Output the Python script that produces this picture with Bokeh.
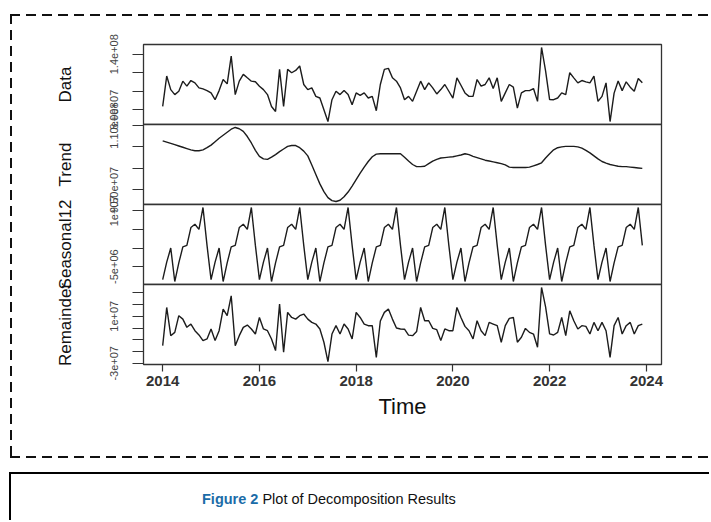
from bokeh.plotting import figure
from bokeh.models import Range1d, FixedTicker, Div, ColumnDataSource
from bokeh.layouts import column
from bokeh.embed import file_html
from bokeh.resources import INLINE

# ---------------- data (values in millions) ----------------
start_year = 2014
months_per_year = 12

data_m = [
    83.6, 116.4, 101.8, 96.4, 100.0, 110.9, 105.5, 111.6, 109.1, 103.6, 102.5, 100.7,
    98.2, 90.9, 100.7, 112.7, 108.0, 138.0, 96.4, 110.9, 118.2, 114.5, 110.9, 110.2,
    105.5, 101.8, 96.4, 83.6, 78.2, 123.6, 83.6, 123.6, 120.0, 122.5, 127.3, 107.3,
    101.8, 103.6, 94.5, 92.7, 80.0, 67.3, 90.9, 100.0, 96.4, 100.7, 96.4, 85.5,
    98.2, 95.6, 98.2, 92.7, 94.5, 79.0, 107.3, 123.6, 124.7, 114.5, 110.9, 103.6,
    90.9, 94.5, 89.1, 100.0, 110.9, 101.8, 109.1, 103.6, 97.1, 101.8, 107.3, 100.0,
    92.7, 114.5, 106.5, 98.2, 94.5, 94.5, 112.7, 105.5, 107.3, 114.5, 102.9, 114.5,
    89.1, 98.2, 107.3, 104.4, 81.8, 98.2, 100.7, 100.7, 102.9, 89.1, 147.3, 122.0,
    91.0, 90.9, 92.7, 98.2, 96.4, 120.0, 114.5, 109.1, 111.6, 110.2, 109.1, 116.4,
    89.1, 94.5, 109.0, 67.3, 98.0, 111.0, 100.7, 110.2, 104.4, 100.0, 113.8, 109.1,
]

trend_m = [
    106.4, 106.1, 105.8, 105.5, 105.2, 104.9, 104.6, 104.3, 104.1, 104.1, 104.3, 104.8,
    105.4, 106.2, 107.0, 107.7, 108.4, 109.1, 109.5, 109.2, 108.6, 107.4, 105.9, 104.2,
    102.8, 102.2, 102.1, 102.6, 103.2, 103.9, 104.5, 105.1, 105.3, 105.3, 104.8, 104.0,
    102.9, 100.8, 98.6, 96.4, 94.6, 93.2, 92.5, 92.3, 92.6, 93.4, 94.5, 95.9,
    97.4, 98.9, 100.3, 101.6, 102.7, 103.3, 103.4, 103.4, 103.4, 103.4, 103.4, 103.4,
    102.6, 101.7, 100.9, 100.4, 100.4, 100.5, 101.1, 101.7, 102.1, 102.4, 102.5, 102.6,
    102.7, 102.9, 103.1, 103.4, 103.2, 102.8, 102.5, 102.2, 101.9, 101.7, 101.5, 101.3,
    101.1, 100.8, 100.3, 100.2, 100.2, 100.2, 100.2, 100.3, 100.6, 100.9, 101.3, 102.4,
    103.4, 104.3, 104.8, 105.0, 105.1, 105.1, 105.1, 105.0, 104.7, 104.2, 103.6, 102.9,
    102.2, 101.6, 101.2, 100.9, 100.7, 100.5, 100.4, 100.4, 100.3, 100.2, 100.1, 100.0,
]

seasonal_rows_m = [
    [-8.5, -3.8, 0.0, -9.0, -4.0, 0.3, 0.7, 5.5, 6.4, 5.0, 10.9, 0.7],  # 2014
    [-8.5, -3.8, 0.0, -9.0, -4.0, 0.3, 0.7, 5.5, 6.4, 5.0, 10.9, 0.7],  # 2015
    [-8.5, -3.8, 0.0, -9.0, -4.0, 0.3, 0.7, 5.5, 6.4, 5.0, 10.9, 0.7],  # 2016
    [-8.5, -3.8, 0.0, -9.0, -4.0, 0.3, 0.7, 5.5, 6.4, 5.0, 10.9, 0.7],  # 2017
    [-8.5, -3.8, 0.0, -9.0, -4.0, 0.3, 0.7, 5.5, 6.4, 5.0, 10.9, 0.7],  # 2018
    [-8.5, -3.8, 0.0, -9.0, -4.0, 0.3, 0.7, 5.5, 6.4, 5.0, 10.9, 0.7],  # 2019
    [-8.5, -3.8, 0.0, -9.0, -4.0, 0.3, 0.7, 5.5, 6.4, 5.0, 10.9, 0.7],  # 2020
    [-8.5, -3.8, 0.0, -9.0, -4.0, 0.3, 0.7, 5.5, 6.4, 5.0, 10.9, 0.7],  # 2021
    [-8.5, -3.8, 0.0, -9.0, -4.0, 0.3, 0.7, 5.5, 6.4, 5.0, 10.9, 0.7],  # 2022
    [-8.5, -3.8, 0.0, -9.0, -4.0, 0.3, 0.7, 5.5, 6.4, 5.0, 10.9, 0.7],  # 2023
]

remainder_m = [
    -15.0, 17.5, -6.5, -3.7, 10.5, 7.6, 0.6, 3.4, -2.3, -5.9, -10.7, -9.3,
    -0.8, -10.7, -2.3, 16.1, 10.5, 27.4, -15.0, -6.5, 0.6, 2.5, -0.8, -5.1,
    9.0, -0.8, -2.3, -9.3, -19.2, 20.3, -20.6, 13.3, 9.0, 7.6, 10.5, 11.9,
    7.6, 4.8, 3.4, -0.8, -12.1, -28.5, -5.1, 2.0, -5.1, 3.4, -0.8, -9.3,
    13.3, 9.0, 3.4, 2.0, 2.0, -25.0, 6.0, 13.3, 16.1, 7.6, 0.0, -0.8,
    -1.0, -6.0, -6.5, -3.0, 17.5, 6.2, 6.2, -0.3, -1.4, -10.7, -0.8, -2.3,
    -2.3, 17.5, 9.0, 1.4, -2.3, -9.3, 6.2, -2.3, -6.5, 4.8, 3.4, 2.0,
    -12.1, 2.0, 8.2, 9.0, -12.1, -7.9, -0.3, -3.7, -5.1, -16.4, 34.5, 18.0,
    -5.0, -5.9, -3.7, 9.0, -6.5, 14.7, 6.2, -0.8, 2.0, 1.4, -5.1, 4.8,
    -2.3, 4.8, -2.3, -24.9, 2.0, 9.0, -5.1, 2.0, 4.8, -5.1, 2.0, 3.4,
]

panel_names = ["Data", "Trend", "Seasonal12", "Remainder"]

data_ticks = [6e7, 8e7, 1e8, 1.2e8, 1.4e8]
data_tick_labels = {1.4e8: "1.4e+08", 8e7: "8.0e+07"}
trend_ticks = [9.5e7, 1.0e8, 1.05e8, 1.1e8]
trend_tick_labels = {1.1e8: "1.10e+08", 9.5e7: "9.50e+07"}
seasonal_ticks = [-5e6, 0.0, 5e6, 1e7]
seasonal_tick_labels = {1e7: "1e+07", -5e6: "-5e+06"}
remainder_ticks = [-3e7, -2e7, -1e7, 0.0, 1e7, 2e7, 3e7]
remainder_tick_labels = {-3e7: "-3e+07", 1e7: "1e+07"}
year_ticks = [2014, 2016, 2018, 2020, 2022, 2024]

caption_label = "Figure 2"
caption_text = "Plot of Decomposition Results"

# ---------------- build ----------------
seasonal_m = [v for row in seasonal_rows_m for v in row]
n = len(data_m)
time = [start_year + i / months_per_year for i in range(n)]
t_pad = 0.04 * (time[-1] - time[0])
x_range = Range1d(time[0] - t_pad, time[-1] + t_pad)

FONT = "Liberation Sans"
LINE = "#1c1c1c"
OV = 22          # overflow room so neighbouring panels' texts can overlap
BOX_W = 699      # inner width of the dashed box


def make_panel(vals_m, title, ticks, tick_labels, top, bottom, show_x=False):
    vals = [v * 1e6 for v in vals_m]
    lo, hi = min(vals), max(vals)
    pad = 0.04 * (hi - lo)
    p = figure(frame_width=518, frame_height=80,
               x_range=x_range, y_range=Range1d(lo - pad, hi + pad),
               output_backend="svg", toolbar_location=None,
               x_axis_location="below" if show_x else None,
               min_border_left=131, min_border_right=BOX_W - 131 - 518,
               min_border_top=top, min_border_bottom=bottom)
    p.background_fill_color = "white"
    p.border_fill_alpha = 0.0
    p.outline_line_color = "#333333"
    p.outline_line_width = 1.3
    p.xgrid.visible = False
    p.ygrid.visible = False
    src = ColumnDataSource(dict(t=time, v=vals))
    p.line("t", "v", source=src, line_color=LINE, line_width=1.4)

    ya = p.yaxis[0]
    ya.ticker = FixedTicker(ticks=ticks)
    ya.major_label_overrides = {t: tick_labels.get(t, "") for t in ticks}
    ya.major_label_orientation = "vertical"
    ya.major_label_text_font = FONT
    ya.major_label_text_font_size = "11px"
    ya.major_label_text_color = "#444444"
    ya.major_label_standoff = 14
    ya.major_tick_in = 0
    ya.major_tick_out = 11
    ya.major_tick_line_color = "#333333"
    ya.major_tick_line_width = 1.2
    ya.minor_tick_line_color = None
    ya.axis_line_color = None
    ya.axis_label = title
    ya.axis_label_text_font = FONT
    ya.axis_label_text_font_size = "17px"
    ya.axis_label_text_font_style = "normal"
    ya.axis_label_text_color = "#111111"
    ya.axis_label_standoff = 33

    if show_x:
        xa = p.xaxis[0]
        xa.ticker = FixedTicker(ticks=year_ticks)
        xa.major_label_text_font = FONT
        xa.major_label_text_font_size = "15px"
        xa.major_label_text_font_style = "bold"
        xa.major_label_text_color = "#333333"
        xa.major_label_standoff = 4
        xa.major_tick_in = 0
        xa.major_tick_out = 7
        xa.major_tick_line_color = "#333333"
        xa.major_tick_line_width = 1.2
        xa.minor_tick_line_color = None
        xa.axis_line_color = None
        xa.axis_label = "Time"
        xa.axis_label_text_font = FONT
        xa.axis_label_text_font_size = "22px"
        xa.axis_label_text_font_style = "normal"
        xa.axis_label_text_color = "#111111"
        xa.axis_label_standoff = 5
    return p


p_data = make_panel(data_m, panel_names[0], data_ticks, data_tick_labels, 28, OV)
p_trend = make_panel(trend_m, panel_names[1], trend_ticks, trend_tick_labels, OV, OV)
p_seas = make_panel(seasonal_m, panel_names[2], seasonal_ticks, seasonal_tick_labels, OV, OV)
p_rem = make_panel(remainder_m, panel_names[3], remainder_ticks, remainder_tick_labels, OV, 92, show_x=True)

p_data.margin = (0, 0, -OV, 0)
p_trend.margin = (-OV, 0, -OV, 0)
p_seas.margin = (-OV, 0, -OV, 0)
p_rem.margin = (-OV, 0, 0, 0)

DASH_H = "repeating-linear-gradient(to right, #111 0px, #111 10px, transparent 10px, transparent 16px)"
DASH_V = "repeating-linear-gradient(to bottom, #111 0px, #111 10px, transparent 10px, transparent 16px)"
box = column(p_data, p_trend, p_seas, p_rem, spacing=0,
             margin=(14, 0, 0, 10),
             styles={"padding": "2px 0px 2px 2px",
                     "background-image": f"{DASH_H}, {DASH_H}, {DASH_V}",
                     "background-size": "100% 2px, 100% 2px, 2px 100%",
                     "background-position": "left top, left bottom, left top",
                     "background-repeat": "no-repeat"})

caption = Div(
    text=f'<span style="color:#1b6ca8;font-weight:bold;">{caption_label}</span> {caption_text}',
    width=700, height=48, margin=(14, 0, 0, 9),
    styles={"border-top": "2px solid #000", "border-left": "2px solid #000",
            "font-family": FONT, "font-size": "14.5px", "color": "#111",
            "padding-left": "191px", "padding-top": "15px", "box-sizing": "border-box"})

layout = column(box, caption, spacing=0)

with open("out.html", "w") as f:
    f.write(file_html(layout, INLINE))
